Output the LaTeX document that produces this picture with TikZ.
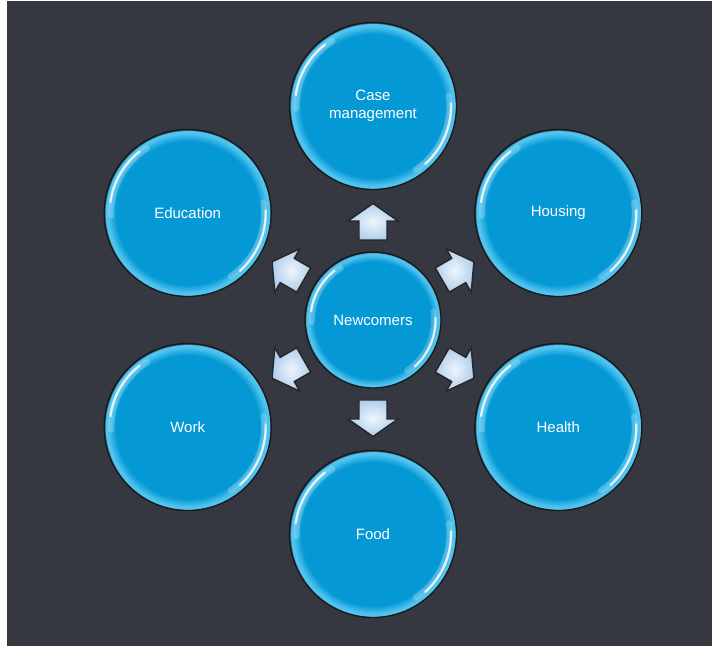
\documentclass[tikz,border=0pt]{standalone}
\usepackage{fontspec}
\setmainfont{Liberation Sans}
\usetikzlibrary{calc}

\definecolor{panel}{RGB}{53,56,65}
\definecolor{bubbleBase}{RGB}{4,152,213}
\definecolor{bubbleRim}{RGB}{80,195,238}
\definecolor{bubbleEdge}{RGB}{20,40,55}
\definecolor{arrowFill}{RGB}{176,206,236}

% glossy disc: flat blue body, lighter cyan rim, dark edge
\pgfdeclareradialshading{bubble}{\pgfpoint{0bp}{0bp}}{%
  color(0bp)=(bubbleBase); color(21.5bp)=(bubbleBase);
  color(23.9bp)=(bubbleRim); color(24.6bp)=(bubbleRim);
  color(25bp)=(bubbleEdge); color(50bp)=(bubbleEdge)}

\tikzset{
  bubblenode/.style={circle, shading=bubble, draw=black!90, line width=1.3pt,
    inner sep=0pt, text=white, align=center,
    font=\fontsize{15}{18}\selectfont},
  outer/.style={bubblenode, minimum size=167pt},
  hub/.style={bubblenode, minimum size=136pt},
  glint/.style={white, line width=2.2pt, line cap=round, opacity=0.8},
  glow/.style={white, line width=6pt, line cap=round, opacity=0.22},
  arrowbox/.style={draw=black!85, line width=1.4pt, line join=miter,
    inner color=white!80!arrowFill, outer color=arrowFill}
}

\begin{document}
\begin{tikzpicture}[x=1pt,y=1pt]
  \useasboundingbox (-373,-327) rectangle (340,320);
  \fill[white] (-373,-327) rectangle (340,320);
  \fill[panel] (-366,-326) rectangle (339,319);

  % hub and the six surrounding topics
  \node[hub] (new) at (0,0) {Newcomers};
  \node[outer] (case) at (90:214) {Case\\management};
  \node[outer] (housing) at (30:214) {Housing};
  \node[outer] (health) at (-30:214) {Health};
  \node[outer] (food) at (-90:214) {Food};
  \node[outer] (work) at (-150:214) {Work};
  \node[outer] (education) at (150:214) {Education};

  % gloss highlights on every disc
  \foreach \n/\r in {new/68, case/83.5, housing/83.5, health/83.5,
                     food/83.5, work/83.5, education/83.5}{
    \draw[glow] ($(\n.center)+(122:\r-7)$) arc[start angle=122, end angle=182, radius=\r-7];
    \draw[glint] ($(\n.center)+(128:\r-5.5)$) arc[start angle=128, end angle=172, radius=\r-5.5];
    \draw[glow] ($(\n.center)+(8:\r-7)$) arc[start angle=8, end angle=-56, radius=\r-7];
    \draw[glint] ($(\n.center)+(2:\r-5.5)$) arc[start angle=2, end angle=-48, radius=\r-5.5];
  }

  % outward block arrows around the hub
  \foreach \a in {90,30,-30,-90,-150,150}{
    \begin{scope}[shift={(\a:98)}, rotate=\a]
      \draw[arrowbox] (-18,-14) -- (1,-14) -- (1,-25) -- (18.5,0)
        -- (1,25) -- (1,14) -- (-18,14) -- cycle;
    \end{scope}
  }
\end{tikzpicture}
\end{document}
